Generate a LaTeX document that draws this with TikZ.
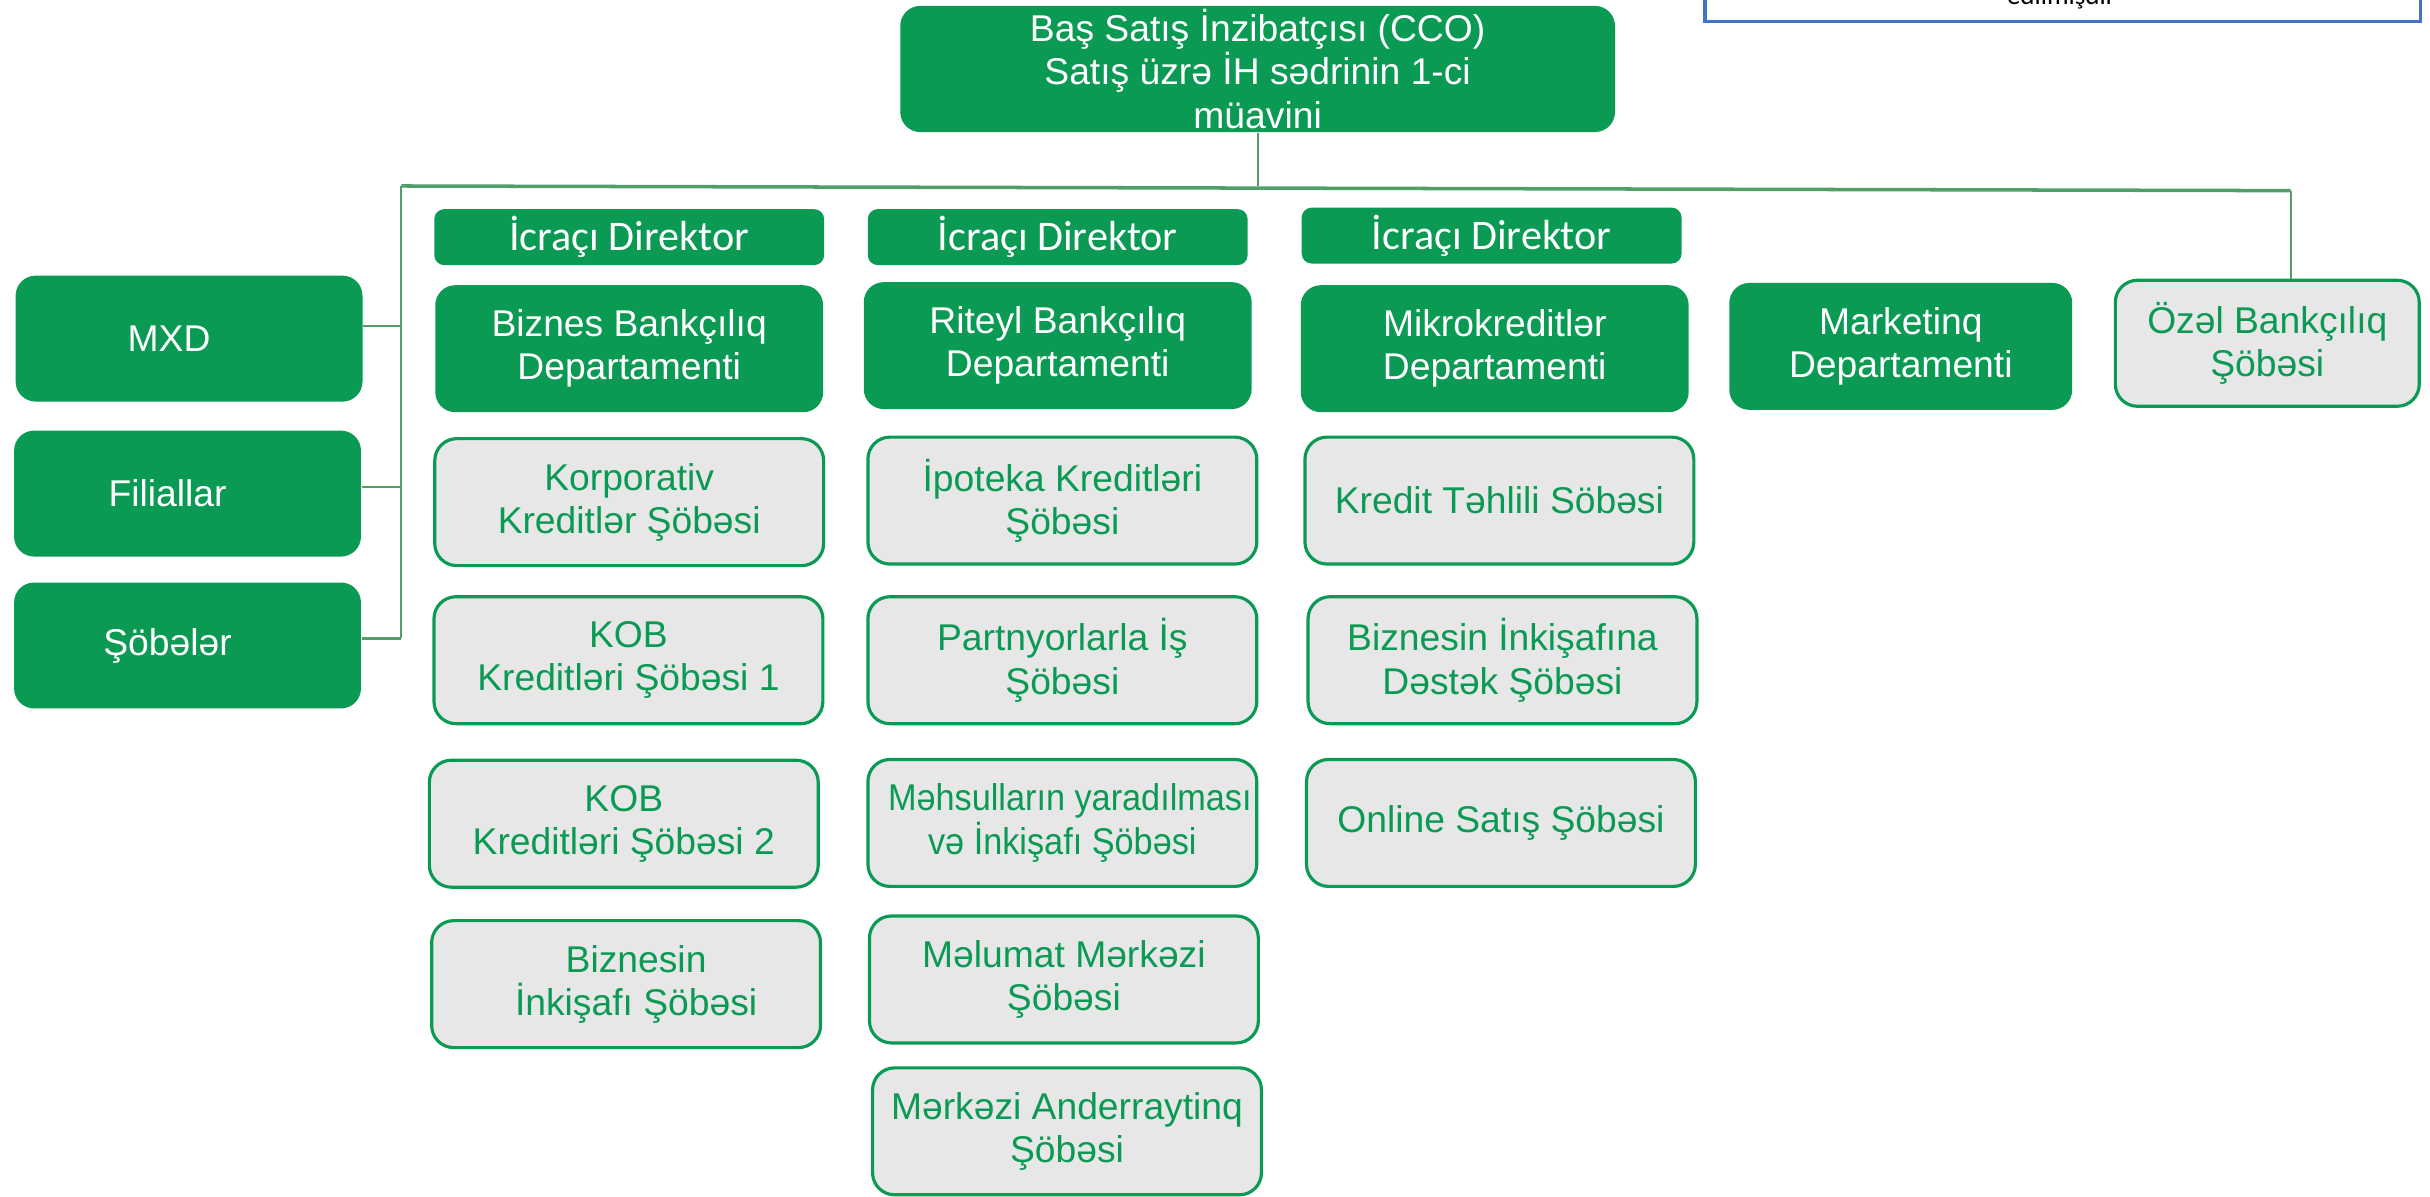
\documentclass[tikz,border=0pt]{standalone}
\usepackage{fontspec}
\setmainfont{Liberation Sans}
\newfontfamily\calibri{Carlito}
\newfontfamily\narrowsans[FakeStretch=0.92]{Liberation Sans}
\usepackage{xcolor}
\usetikzlibrary{positioning}
\definecolor{bankgreen}{RGB}{11,154,84}
\definecolor{linegreen}{RGB}{80,158,104}
\definecolor{boxgray}{RGB}{231,231,231}
\definecolor{noteblue}{RGB}{68,114,196}

\begin{document}
\begin{tikzpicture}[
    x=0.0155cm, y=-0.0155cm,
    boxfont/.style={font=\fontsize{10.6}{12.3}\selectfont},
    chief/.style={rectangle, fill=bankgreen, text=white, rounded corners=0.2cm, minimum width=7.15cm, minimum height=1.26cm, align=center, inner sep=1pt, boxfont},
    side/.style={rectangle, fill=bankgreen, text=white, rounded corners=0.2cm, minimum width=3.47cm, minimum height=1.26cm, inner sep=1pt, boxfont, execute at end node={\hspace*{0.4cm}}},
    head/.style={rectangle, fill=bankgreen, text=white, rounded corners=0.1cm, minimum width=3.8cm, minimum height=0.56cm, inner sep=1pt, font=\calibri\fontsize{12}{14}\selectfont},
    dept/.style={rectangle, fill=bankgreen, text=white, rounded corners=0.2cm, minimum width=3.88cm, minimum height=1.27cm, align=center, inner sep=1pt, boxfont},
    unit/.style={rectangle, draw=bankgreen, line width=0.9pt, fill=boxgray, text=bankgreen, rounded corners=0.22cm, minimum width=3.89cm, minimum height=1.27cm, align=center, inner sep=1pt, boxfont},
    link/.style={draw=linegreen, line width=0.6pt},
    bus/.style={draw=linegreen, line width=1pt}
]
    \useasboundingbox (0,0) rectangle (1568,772);

    % Note box (cut at the top)
    \draw[noteblue, line width=1pt] (1100,-40) -- (1100,14) -- (1562,14) -- (1562,-40);
    \node[anchor=base, inner sep=0pt, font=\calibri\fontsize{7.7}{9}\selectfont] (note) at (1330,3) {edilmişdir};

    % Chief
    \node[chief] (cco) at (811.5,44.5) {Baş Satış İnzibatçısı (CCO)\\Satış üzrə İH sədrinin 1-ci\\müavini};

    % Bus
    \coordinate (busL) at (259,120);
    \coordinate (busR) at (1478,123);
    \draw[link] (cco.south) -- (cco.south |- busL);
    \draw[bus] (busL) -- (busR);

    % Left side
    \node[side] (mxd) at (122,218.5) {MXD};
    \node[side] (fil) at (121,318.5) {Filiallar};
    \node[side] (sob) at (121,416.5) {Şöbələr};
    \draw[link] (busL) -- ([yshift=0.07cm]busL |- sob.east);
    \draw[link] ([yshift=0.13cm]mxd.east) -- ([yshift=0.13cm]mxd.east -| busL);
    \draw[link] ([yshift=0.07cm]fil.east) -- ([yshift=0.07cm]fil.east -| busL);
    \draw[link] ([yshift=0.07cm]sob.east) -- ([yshift=0.07cm]sob.east -| busL);

    % Heads
    \node[head, minimum width=3.9cm] (h1) at (406,153) {İcraçı Direktor};
    \node[head] (h2) at (682.5,153) {İcraçı Direktor};
    \node[head] (h3) at (962.5,152) {İcraçı Direktor};

    % Departments
    \node[dept] (biz) at (406,225) {Biznes Bankçılıq\\Departamenti};
    \node[dept] (ret) at (682.5,223) {Riteyl Bankçılıq\\Departamenti};
    \node[dept] (mik) at (964.5,225) {Mikrokreditlər\\Departamenti};
    \node[dept, minimum width=3.43cm] (mkt) at (1226.5,223.5) {Marketinq\\Departamenti};
    \node[unit, minimum width=3.04cm, minimum height=1.26cm] (ozel) at (1463,221.5) {Özəl Bankçılıq\\Şöbəsi};
    \draw[link] (busR) -- (busR |- ozel.north);

    % Business banking units
    \node[unit] (korp) at (406,324) {Korporativ\\Kreditlər Şöbəsi};
    \node[unit] (kob1) at (405.5,426) {KOB\\Kreditləri Şöbəsi 1};
    \node[unit] (kob2) at (402.5,531.5) {KOB\\Kreditləri Şöbəsi 2};
    \node[unit] (bink) at (404,635) {\hspace*{0.2cm}Biznesin\\\hspace*{0.2cm}İnkişafı Şöbəsi};

    % Retail banking units
    \node[unit] (ipo) at (685.5,323) {İpoteka Kreditləri\\Şöbəsi};
    \node[unit] (part) at (685.5,426) {Partnyorlarla İş\\Şöbəsi};
    \node[unit, inner sep=0pt, font=\narrowsans\fontsize{10.6}{12.3}\selectfont] (mehs) at (685.5,531) {\hspace*{0.15cm}Məhsulların yaradılması\\və İnkişafı Şöbəsi};
    \node[unit] (mel) at (686.5,632) {Məlumat Mərkəzi\\Şöbəsi};
    \node[unit] (and) at (688.5,730) {Mərkəzi Anderraytinq\\Şöbəsi};

    % Microcredit units
    \node[unit] (kred) at (967.5,323) {Kredit Təhlili Söbəsi};
    \node[unit] (dest) at (969.5,426) {Biznesin İnkişafına\\Dəstək Şöbəsi};
    \node[unit] (onl) at (968.5,531) {Online Satış Şöbəsi};
\end{tikzpicture}
\end{document}
